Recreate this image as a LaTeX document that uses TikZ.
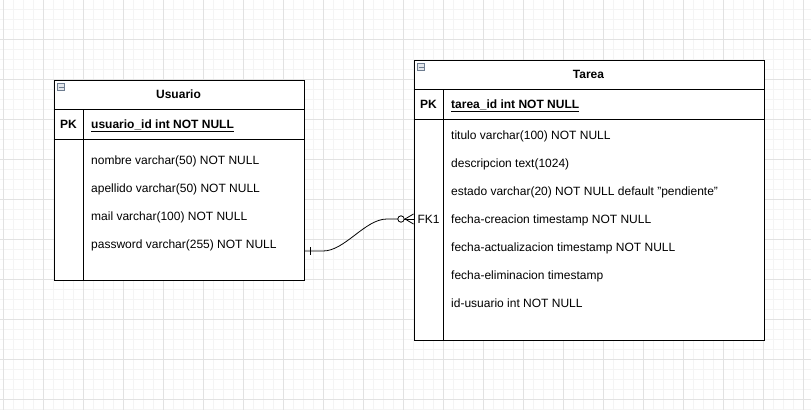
\documentclass[tikz,border=0pt]{standalone}
\usepackage{fontspec}
\setmainfont{Liberation Sans}
\definecolor{gridminor}{HTML}{F4F4F4}
\definecolor{gridmajor}{HTML}{E2E2E2}
\definecolor{iconfill}{HTML}{E4E7EB}
\definecolor{iconline}{HTML}{6E7D90}
\begin{document}
\begin{tikzpicture}[x=1pt,y=-1pt,
  tbl/.style={draw=black,line width=1pt},
  field/.style={anchor=west,inner sep=0pt,font=\fontsize{12}{14}\selectfont,text height=8.6pt,text depth=2.4pt},
  keytxt/.style={inner sep=0pt,font=\fontsize{12}{14}\selectfont\bfseries,text height=8.6pt,text depth=2.4pt},
  ttl/.style={inner sep=0pt,font=\fontsize{12}{14}\selectfont\bfseries,text height=8.6pt,text depth=2.4pt},
  conn/.style={draw=black,line width=0.8pt},
  icon/.style={draw=iconline,fill=iconfill,line width=0.7pt,minimum size=7pt,inner sep=0pt}
]
\useasboundingbox (0,0) rectangle (811,410);
\fill[white] (0,0) rectangle (811,410);
% grid
\foreach \i in {0,...,81} { \draw[gridminor,line width=0.8pt] (3+10*\i,0) -- (3+10*\i,410); }
\foreach \j in {0,...,41} { \draw[gridminor,line width=0.8pt] (0,-1+10*\j) -- (811,-1+10*\j); }
\foreach \i in {0,...,20} { \draw[gridmajor,line width=0.8pt] (3+40*\i,0) -- (3+40*\i,410); }
\foreach \j in {0,...,10} { \draw[gridmajor,line width=0.8pt] (0,-1+40*\j) -- (811,-1+40*\j); }

% ---------- Usuario ----------
\node[tbl,fill=white,minimum width=250pt,minimum height=200pt,inner sep=0pt,anchor=north west] (u) at (53.5,79.5) {};
\draw[tbl] (53.5,109.5) -- (303.5,109.5);
\draw[tbl] (53.5,139.5) -- (303.5,139.5);
\draw[tbl] (83.5,109.5) -- (83.5,279.5);
\node[icon] (uicon) at (61,87) {};
\draw[iconline,line width=0.9pt] (58.5,87) -- (63.5,87);
\node[ttl] (utitle) at (178.5,95.5) {Usuario};
\node[keytxt] (upk) at (68.5,125.5) {PK};
\node[field,font=\fontsize{12}{14}\selectfont\bfseries] (uid) at (91,125.5) {\underline{usuario\_id int NOT NULL}};
\node[field] (u1) at (91,161.5) {nombre varchar(50) NOT NULL};
\node[field] (u2) at (91,189.5) {apellido varchar(50) NOT NULL};
\node[field] (u3) at (91,217.5) {mail varchar(100) NOT NULL};
\node[field] (u4) at (91,245.5) {password varchar(255) NOT NULL};

% ---------- Tarea ----------
\node[tbl,fill=white,minimum width=350pt,minimum height=280pt,inner sep=0pt,anchor=north west] (t) at (413.5,59.5) {};
\draw[tbl] (413.5,89.5) -- (763.5,89.5);
\draw[tbl] (413.5,119.5) -- (763.5,119.5);
\draw[tbl] (443.5,89.5) -- (443.5,339.5);
\node[icon] (ticon) at (421,67) {};
\draw[iconline,line width=0.9pt] (418.5,67) -- (423.5,67);
\node[ttl] (ttitle) at (588.5,75.5) {Tarea};
\node[keytxt] (tpk) at (428.5,105.5) {PK};
\node[field,font=\fontsize{12}{14}\selectfont\bfseries] (tid) at (451,105.5) {\underline{tarea\_id int NOT NULL}};
\node[field] (t1) at (451,136.5) {titulo varchar(100) NOT NULL};
\node[field] (t2) at (451,164.5) {descripcion text(1024)};
\node[field] (t3) at (451,192.5) {estado varchar(20) NOT NULL default \symbol{34}pendiente\symbol{34}};
\node[field] (t4) at (451,220.5) {fecha-creacion timestamp NOT NULL};
\node[field] (t5) at (451,248.5) {fecha-actualizacion timestamp NOT NULL};
\node[field] (t6) at (451,276.5) {fecha-eliminacion timestamp};
\node[field] (t7) at (451,304.5) {id-usuario int NOT NULL};
\node[field,anchor=center] (tfk) at (428.5,220.5) {FK1};

% ---------- connector ----------
\coordinate (cs) at (u.east |- 0,251);
\coordinate (ce) at (t.west |- 0,219);
\coordinate (cc) at (401,219);
\draw[conn] (cs) -- (323,251) .. controls (345,251) and (365,219) .. (387,219) -- (397.8,219);
\draw[conn] (310,247) -- (310,255);
\draw[conn] (cc) circle (3.2pt);
\draw[conn] (404.2,219) -- (ce);
\draw[conn] (405,219) -- ([yshift=-5pt]ce);
\draw[conn] (405,219) -- ([yshift=5pt]ce);
\end{tikzpicture}
\end{document}
